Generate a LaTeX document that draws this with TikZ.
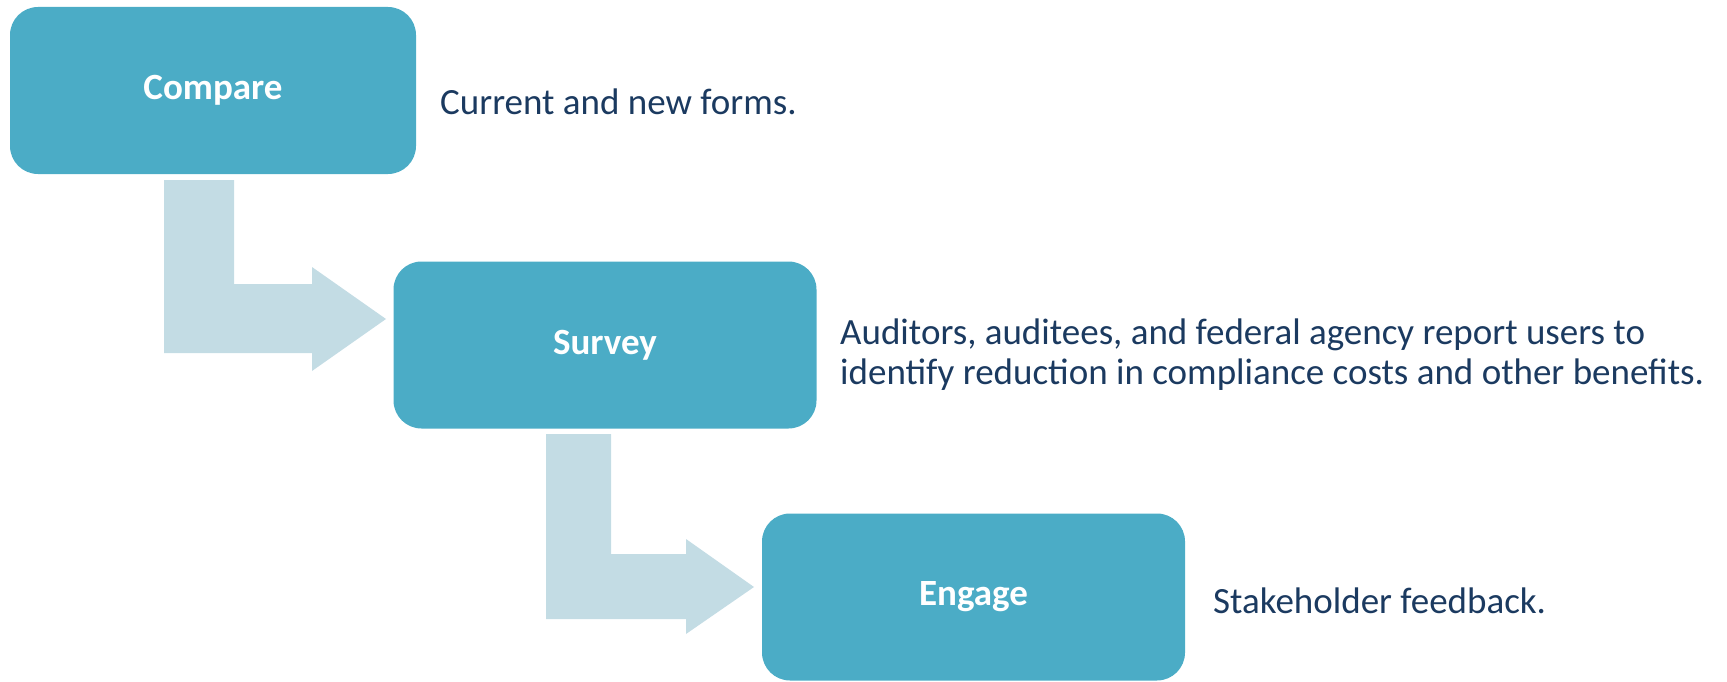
\documentclass[tikz,border=0pt]{standalone}
\usepackage{fontspec}
\setmainfont{Carlito}
\definecolor{boxblue}{HTML}{4BACC6}
\definecolor{arrowblue}{HTML}{C3DCE4}
\definecolor{navy}{HTML}{1B3A60}
\begin{document}
\begin{tikzpicture}[x=1pt,y=-1pt,
  stepbox/.style={fill=boxblue,draw=none,rounded corners=28pt,minimum height=167pt,
    font=\fontsize{37}{40}\selectfont\bfseries,text=white,inner sep=0pt},
  desc/.style={font=\fontsize{37}{40}\selectfont,text=navy,inner sep=0pt,anchor=base west,align=left},
  bentarrow/.style={fill=arrowblue,draw=none}]
\useasboundingbox (0,0) rectangle (1727,682);
\node[stepbox,minimum width=406pt] (compare) at (213,90.5) {Compare};
\node[stepbox,minimum width=423pt] (survey) at (605,345) {Survey};
\node[stepbox,minimum width=423pt] (engage) at (973.5,597) {Engage};
\node[desc] (t1) at (440,115) {Current and new forms.};
\node[desc] (t2) at (840,384) {Auditors, auditees, and federal agency report users to\\identify reduction in compliance costs and other benefits.};
\node[desc] (t3) at (1213,613) {Stakeholder feedback.};
\fill[bentarrow] (164,180) -- (234,180) -- (234,284) -- (312,284) -- (312,267) -- (386,319)
  -- (312,371) -- (312,353) -- (164,353) -- cycle;
\fill[bentarrow] (546,434) -- (611,434) -- (611,554) -- (686,554) -- (686,539) -- (754,587)
  -- (686,634) -- (686,619) -- (546,619) -- cycle;
\end{tikzpicture}
\end{document}
